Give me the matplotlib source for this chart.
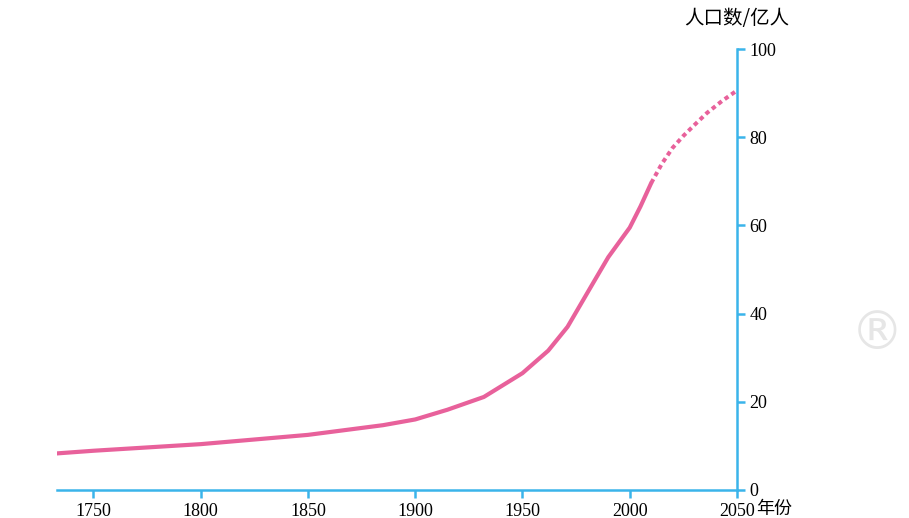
import matplotlib
matplotlib.use("Agg")
import matplotlib.pyplot as plt

# World population (亿人) by year
years = [1733, 1750, 1800, 1850, 1885, 1900, 1915, 1932, 1950, 1962,
         1971, 1983, 1990, 1997, 2000, 2005, 2010]
population = [8.3, 8.9, 10.4, 12.5, 14.7, 16.0, 18.2, 21.1, 26.5, 31.6,
              37.0, 47.0, 52.8, 57.5, 59.5, 64.3, 69.6]

# Projection
proj_years = [2010, 2015, 2020, 2025, 2030, 2036, 2043, 2050]
proj_population = [69.6, 74.0, 77.6, 80.3, 82.7, 85.5, 88.2, 90.6]

xticks = [1750, 1800, 1850, 1900, 1950, 2000, 2050]
yticks = [0, 20, 40, 60, 80, 100]

PINK = "#e8619b"
BLUE = "#3ab4ea"
NUM_FONT = ["Liberation Serif", "DejaVu Serif"]
CJK_FONT = ["Noto Sans CJK SC", "DejaVu Sans"]

fig = plt.figure(figsize=(9.09, 5.18), dpi=100)
ax = fig.add_axes([57 / 909, 28 / 518, 680 / 909, 441 / 518])

ax.plot(years, population, color=PINK, lw=3.0, solid_capstyle="round",
        solid_joinstyle="round")
ax.plot(proj_years, proj_population, color=PINK, lw=2.9,
        linestyle=(0, (1.1, 0.9)), dash_capstyle="butt")

ax.set_xlim(1733, 2050)
ax.set_ylim(0, 100)

for side in ("left", "top"):
    ax.spines[side].set_visible(False)
for side in ("bottom", "right"):
    ax.spines[side].set_color(BLUE)
    ax.spines[side].set_linewidth(1.8)

ax.yaxis.tick_right()
ax.set_xticks(xticks)
ax.set_yticks(yticks)
ax.tick_params(axis="both", colors=BLUE, length=6, width=1.8, direction="out",
               labelcolor="black", labelsize=13)
ax.tick_params(axis="x", pad=3)
ax.tick_params(axis="y", pad=3)
for lab in ax.get_xticklabels() + ax.get_yticklabels():
    lab.set_family(NUM_FONT)

# Axis titles
ax.text(2050, 104.5, "人口数/亿人", family=CJK_FONT, fontsize=14,
        ha="center", va="bottom", transform=ax.transData, clip_on=False)
ax.annotate("年份", xy=(2050, 0), xytext=(13.8, -13.8), textcoords="offset points",
            family=CJK_FONT, fontsize=13, ha="left", va="center",
            annotation_clip=False)

# Publisher watermark
fig.text(0.965, 0.355, "®", family=["DejaVu Sans"], fontsize=38,
         color="#e6e6e6", ha="center", va="center")

fig.savefig("out.png", dpi=100, facecolor="white")
